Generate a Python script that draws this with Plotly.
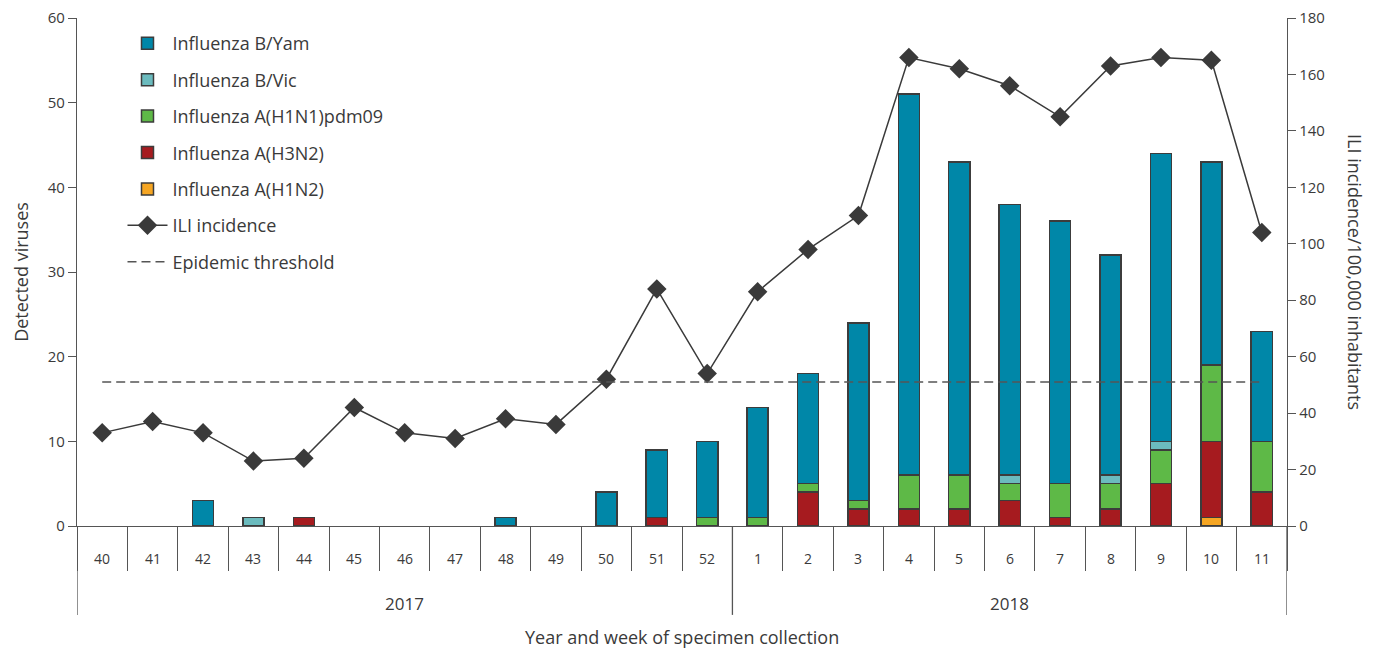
import plotly.graph_objects as go

weeks = ["40", "41", "42", "43", "44", "45", "46", "47", "48", "49", "50", "51", "52",
         "1", "2", "3", "4", "5", "6", "7", "8", "9", "10", "11"]
years = ["2017", "2018"]
year_center = [6, 18]
year_dividers = [-0.5, 12.5, 23.5]

b_yam =   [0, 0, 3, 0, 0, 0, 0, 0, 1, 0, 4, 8, 9, 13, 13, 21, 45, 37, 32, 31, 26, 34, 24, 13]
b_vic =   [0, 0, 0, 1, 0, 0, 0, 0, 0, 0, 0, 0, 0, 0, 0, 0, 0, 0, 1, 0, 1, 1, 0, 0]
a_h1n1 =  [0, 0, 0, 0, 0, 0, 0, 0, 0, 0, 0, 0, 1, 1, 1, 1, 4, 4, 2, 4, 3, 4, 9, 6]
a_h3n2 =  [0, 0, 0, 0, 1, 0, 0, 0, 0, 0, 0, 1, 0, 0, 4, 2, 2, 2, 3, 1, 2, 5, 9, 4]
a_h1n2 =  [0, 0, 0, 0, 0, 0, 0, 0, 0, 0, 0, 0, 0, 0, 0, 0, 0, 0, 0, 0, 0, 0, 1, 0]
ili =     [33, 37, 33, 23, 24, 42, 33, 31, 38, 36, 52, 84, 54, 83, 98, 110, 166, 162,
           156, 145, 163, 166, 165, 104]
threshold = 51

FONT = "Open Sans"
TXT = "#3a3a3a"
EDGE = "#3c3c3c"
AX = "#555555"

fig = go.Figure()

series = [
    ("Influenza A(H1N2)", a_h1n2, "#F6A623", 5),
    ("Influenza A(H3N2)", a_h3n2, "#A61B1F", 4),
    ("Influenza A(H1N1)pdm09", a_h1n1, "#5EB947", 3),
    ("Influenza B/Vic", b_vic, "#6BBBBE", 2),
    ("Influenza B/Yam", b_yam, "#0087A8", 1),
]
for name, vals, col, rank in series:
    fig.add_trace(go.Bar(
        x=weeks, y=[v if v else None for v in vals], name=name,
        legendrank=rank, legendgroup=name,
        marker=dict(color=col, line=dict(color=EDGE, width=1.5)),
        yaxis="y",
    ))

fig.add_trace(go.Scatter(
    x=weeks, y=ili, name="ILI incidence", legendrank=6, legendgroup="ili",
    mode="lines+markers", yaxis="y2",
    line=dict(color="#3a3a3a", width=1.5),
    marker=dict(symbol="diamond", size=15, color="#3a3a3a"),
))
fig.add_trace(go.Scatter(
    x=[weeks[0], weeks[-1]], y=[threshold, threshold], name="Epidemic threshold",
    legendrank=7, legendgroup="thr", mode="lines", yaxis="y2",
    line=dict(color="#555555", width=1.5, dash="9px,5px"),
))

annotations = []
for i, w in enumerate(weeks):
    annotations.append(dict(x=i, xref="x", y=-0.063, yref="paper", text=w,
                            showarrow=False, yanchor="middle",
                            font=dict(family=FONT, size=14, color=TXT)))
for yr, c in zip(years, year_center):
    annotations.append(dict(x=c, xref="x", y=-0.152, yref="paper", text=yr,
                            showarrow=False, yanchor="middle",
                            font=dict(family=FONT, size=17, color=TXT)))
annotations.append(dict(x=0.5, xref="paper", y=-0.218, yref="paper",
                        text="Year and week of specimen collection", showarrow=False,
                        yanchor="middle", font=dict(family=FONT, size=18, color=TXT)))
annotations.append(dict(x=1.0, xref="paper", xshift=68, y=0.5, yref="paper",
                        text="ILI incidence/100,000 inhabitants", showarrow=False,
                        textangle=90, xanchor="center", yanchor="middle",
                        font=dict(family=FONT, size=18, color=TXT)))

shapes = []
for d in year_dividers:
    shapes.append(dict(type="line", xref="x", yref="paper", x0=d, x1=d, y0=0, y1=-0.175,
                       line=dict(color=AX, width=1.3)))

fig.update_layout(
    width=1369, height=642,
    margin=dict(l=69, r=90, t=10, b=124, autoexpand=False),
    paper_bgcolor="white", plot_bgcolor="white",
    barmode="stack", bargap=0.58,
    font=dict(family=FONT, size=14, color=TXT),
    showlegend=True,
    legend=dict(x=0.0376, y=0.986, xanchor="left", yanchor="top",
                traceorder="grouped", tracegroupgap=10,
                font=dict(family=FONT, size=18, color=TXT),
                bgcolor="rgba(0,0,0,0)", itemwidth=40),
    xaxis=dict(type="category", categoryorder="array", categoryarray=weeks,
               range=[-0.5, 23.5], showticklabels=False, ticks="outside",
               tickson="boundaries", ticklen=44, tickcolor=AX, tickwidth=1.3,
               showline=True, linecolor=AX, linewidth=1.3, showgrid=False,
               zeroline=False, automargin=False),
    yaxis=dict(range=[0, 60], dtick=10, ticks="outside", ticklen=8,
               tickcolor=AX, showline=True, linecolor=AX, linewidth=1.3,
               showgrid=False, zeroline=False, automargin=False,
               ticklabeloverflow="allow",
               tickfont=dict(family=FONT, size=15, color=TXT),
               title=dict(text="Detected viruses", standoff=14,
                          font=dict(family=FONT, size=18, color=TXT))),
    yaxis2=dict(range=[0, 180], dtick=20, overlaying="y", side="right",
                ticks="outside", ticklen=8, tickcolor=AX, showline=True,
                linecolor=AX, linewidth=1.3, showgrid=False, zeroline=False,
                automargin=False, ticklabeloverflow="allow",
                tickfont=dict(family=FONT, size=15, color=TXT)),
    annotations=annotations,
    shapes=shapes,
)

fig.write_html("out.html")
